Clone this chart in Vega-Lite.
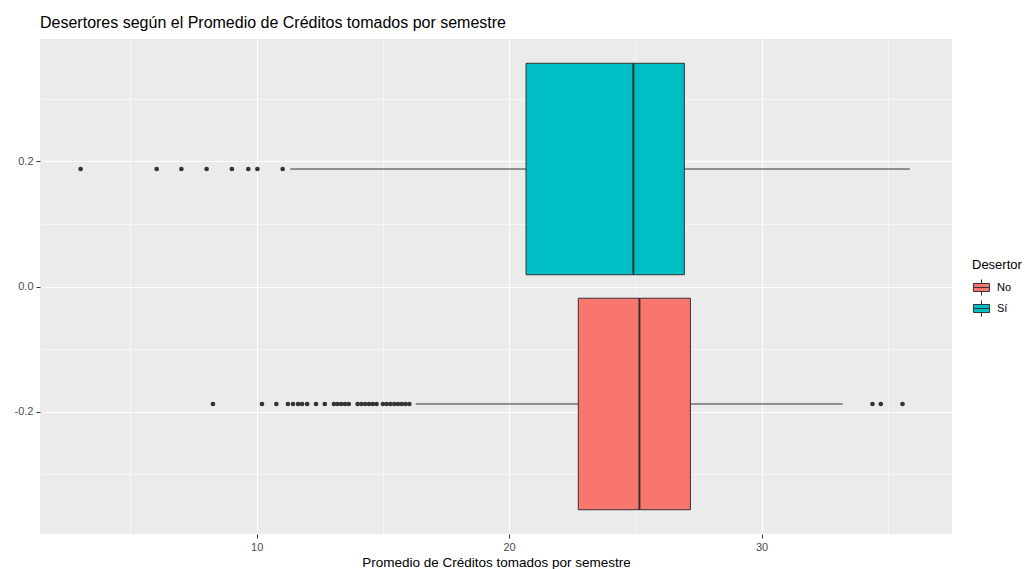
{
  "$schema": "https://vega.github.io/schema/vega-lite/v6.json",
  "width": 912,
  "height": 495,
  "autosize": {"type": "none"},
  "padding": {"left": 40, "top": 39, "right": 73, "bottom": 35},
  "background": "white",
  "title": {
    "text": "Desertores según el Promedio de Créditos tomados por semestre",
    "anchor": "start",
    "frame": "group",
    "fontSize": 16,
    "fontWeight": "normal",
    "color": "#000000",
    "offset": 8
  },
  "datasets": {
    "resumen": [
      {"Desertor": "No", "lo": 16.3, "q1": 22.74, "med": 25.16, "q3": 27.18, "hi": 33.21},
      {"Desertor": "Sí", "lo": 11.33, "q1": 20.67, "med": 24.92, "q3": 26.94, "hi": 35.87}
    ],
    "atipicos": [
      {"Desertor": "Sí", "Creditos": 3.03},
      {"Desertor": "Sí", "Creditos": 6.04},
      {"Desertor": "Sí", "Creditos": 7.02},
      {"Desertor": "Sí", "Creditos": 8.02},
      {"Desertor": "Sí", "Creditos": 9.02},
      {"Desertor": "Sí", "Creditos": 9.67},
      {"Desertor": "Sí", "Creditos": 10.03},
      {"Desertor": "Sí", "Creditos": 11.03},
      {"Desertor": "No", "Creditos": 8.27},
      {"Desertor": "No", "Creditos": 10.21},
      {"Desertor": "No", "Creditos": 10.78},
      {"Desertor": "No", "Creditos": 11.24},
      {"Desertor": "No", "Creditos": 11.44},
      {"Desertor": "No", "Creditos": 11.64},
      {"Desertor": "No", "Creditos": 11.8},
      {"Desertor": "No", "Creditos": 12.0},
      {"Desertor": "No", "Creditos": 12.35},
      {"Desertor": "No", "Creditos": 12.7},
      {"Desertor": "No", "Creditos": 13.06},
      {"Desertor": "No", "Creditos": 13.2},
      {"Desertor": "No", "Creditos": 13.35},
      {"Desertor": "No", "Creditos": 13.5},
      {"Desertor": "No", "Creditos": 13.65},
      {"Desertor": "No", "Creditos": 14.0},
      {"Desertor": "No", "Creditos": 14.15},
      {"Desertor": "No", "Creditos": 14.3},
      {"Desertor": "No", "Creditos": 14.45},
      {"Desertor": "No", "Creditos": 14.6},
      {"Desertor": "No", "Creditos": 14.75},
      {"Desertor": "No", "Creditos": 15.0},
      {"Desertor": "No", "Creditos": 15.15},
      {"Desertor": "No", "Creditos": 15.3},
      {"Desertor": "No", "Creditos": 15.45},
      {"Desertor": "No", "Creditos": 15.6},
      {"Desertor": "No", "Creditos": 15.75},
      {"Desertor": "No", "Creditos": 15.9},
      {"Desertor": "No", "Creditos": 16.05},
      {"Desertor": "No", "Creditos": 34.39},
      {"Desertor": "No", "Creditos": 34.72},
      {"Desertor": "No", "Creditos": 35.58}
    ]
  },
  "layer": [
    {
      "data": {"name": "resumen"},
      "transform": [
        {"calculate": "datum.Desertor === 'Sí' ? 0.1875 : -0.1875", "as": "ymid"}
      ],
      "mark": {"type": "rule", "color": "#333333", "strokeWidth": 1},
      "encoding": {
        "x": {
          "field": "lo",
          "type": "quantitative",
          "scale": {"domain": [1.42, 37.54], "nice": false, "zero": false},
          "title": "Promedio de Créditos tomados por semestre",
          "axis": {
            "values": [5, 10, 15, 20, 25, 30, 35],
            "labelExpr": "datum.value % 10 === 0 ? datum.label : ''",
            "tickOpacity": {"condition": {"test": "datum.value % 10 === 0", "value": 1}, "value": 0},
            "gridWidth": {"condition": {"test": "datum.value % 10 === 0", "value": 1.1}, "value": 0.55}
          }
        },
        "x2": {"field": "hi"},
        "y": {
          "field": "ymid",
          "type": "quantitative",
          "scale": {"domain": [-0.395, 0.395], "nice": false, "zero": false},
          "title": null,
          "axis": {
            "values": [-0.3, -0.2, -0.1, 0, 0.1, 0.2, 0.3],
            "labelExpr": "abs(round(datum.value * 10)) % 2 === 0 ? replace(format(datum.value, '.1f'), '\u2212', '-') : ''",
            "tickOpacity": {"condition": {"test": "abs(round(datum.value * 10)) % 2 === 0", "value": 1}, "value": 0},
            "gridWidth": {"condition": {"test": "abs(round(datum.value * 10)) % 2 === 0", "value": 1.1}, "value": 0.55}
          }
        }
      }
    },
    {
      "data": {"name": "resumen"},
      "transform": [
        {"calculate": "(datum.Desertor === 'Sí' ? 0.1875 : -0.1875) - 0.16875", "as": "ylo"},
        {"calculate": "(datum.Desertor === 'Sí' ? 0.1875 : -0.1875) + 0.16875", "as": "yhi"}
      ],
      "mark": {"type": "bar", "stroke": "#333333", "strokeWidth": 1, "opacity": 1},
      "encoding": {
        "x": {"field": "q1", "type": "quantitative"},
        "x2": {"field": "q3"},
        "y": {"field": "ylo", "type": "quantitative"},
        "y2": {"field": "yhi"},
        "fill": {
          "field": "Desertor",
          "type": "nominal",
          "scale": {"domain": ["No", "Sí"], "range": ["#F8766D", "#00BFC4"]},
          "legend": {
            "orient": "none",
            "legendX": 932,
            "legendY": 220,
            "title": "Desertor",
            "titleFontSize": 13,
            "titleFontWeight": "normal",
            "titleColor": "#000000",
            "titlePadding": 6,
            "labelFontSize": 11,
            "labelColor": "#000000",
            "labelOffset": 6,
            "rowPadding": 0,
            "symbolType": "M-0.9,-0.45H0.9V0.45H-0.9Z M-0.9,0H0.9 M0,-0.45V-0.9 M0,0.45V0.9",
            "symbolSize": 320,
            "symbolStrokeColor": "#333333",
            "symbolStrokeWidth": 1,
            "symbolOpacity": 1
          }
        }
      }
    },
    {
      "data": {"name": "resumen"},
      "transform": [
        {"calculate": "(datum.Desertor === 'Sí' ? 0.1875 : -0.1875) - 0.16875", "as": "ylo"},
        {"calculate": "(datum.Desertor === 'Sí' ? 0.1875 : -0.1875) + 0.16875", "as": "yhi"}
      ],
      "mark": {"type": "rule", "color": "#333333", "strokeWidth": 2},
      "encoding": {
        "x": {"field": "med", "type": "quantitative"},
        "y": {"field": "ylo", "type": "quantitative"},
        "y2": {"field": "yhi"}
      }
    },
    {
      "data": {"name": "atipicos"},
      "transform": [
        {"calculate": "datum.Desertor === 'Sí' ? 0.1875 : -0.1875", "as": "ymid"}
      ],
      "mark": {"type": "circle", "color": "#333333", "size": 22, "opacity": 1},
      "encoding": {
        "x": {"field": "Creditos", "type": "quantitative"},
        "y": {"field": "ymid", "type": "quantitative"}
      }
    }
  ],
  "config": {
    "font": "Liberation Sans",
    "view": {"fill": "#EBEBEB", "stroke": null},
    "axis": {
      "domain": false,
      "grid": true,
      "gridColor": "#FFFFFF",
      "tickColor": "#333333",
      "tickSize": 4,
      "tickWidth": 1,
      "labelColor": "#4D4D4D",
      "labelFontSize": 11,
      "labelPadding": 3,
      "titleFontSize": 13.5,
      "titleFontWeight": "normal",
      "titleColor": "#000000",
      "titlePadding": 3
    },
    "axisY": {"labelPadding": 3}
  }
}
